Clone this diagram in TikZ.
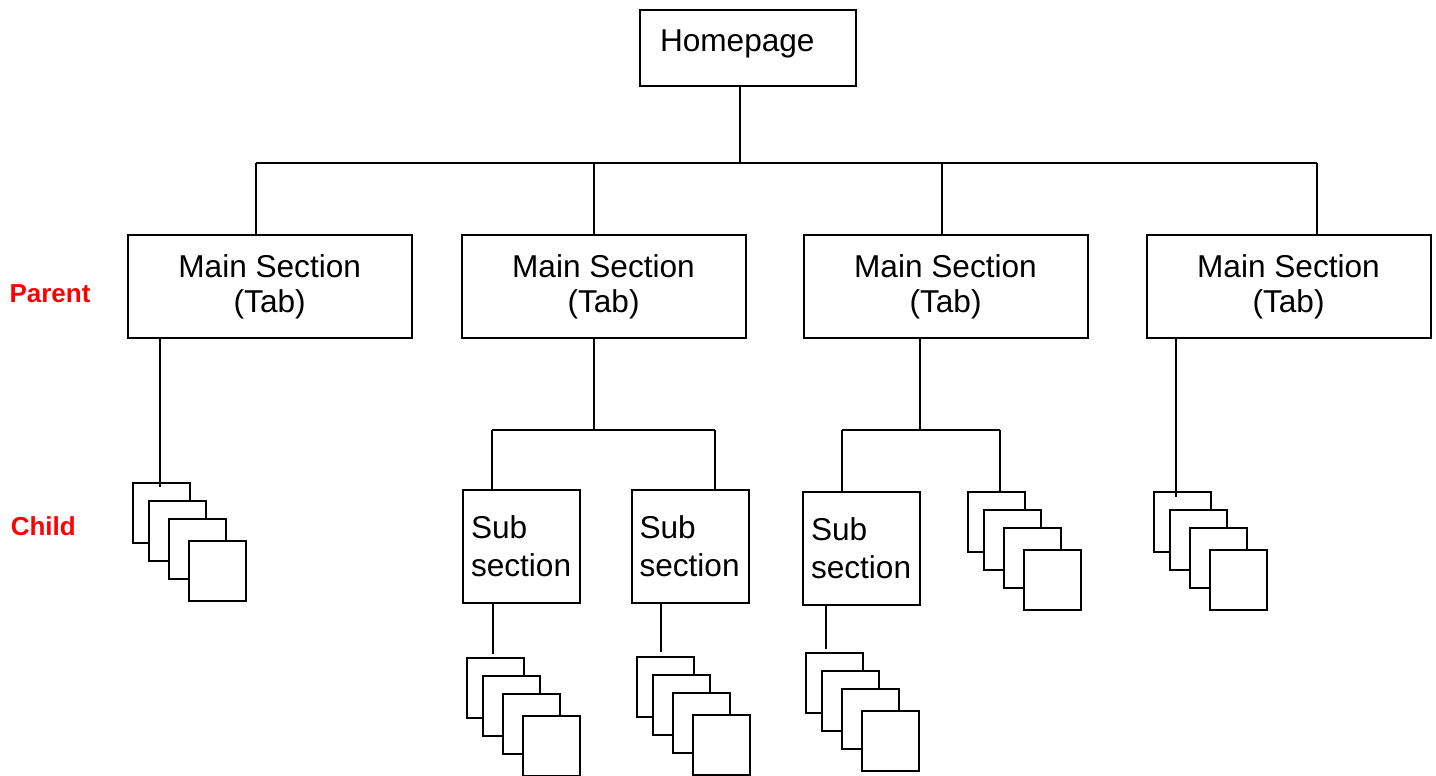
\documentclass[tikz,border=0pt]{standalone}
\usepackage{fontspec}
\setmainfont{Liberation Sans}

\begin{document}
\begin{tikzpicture}[x=0.5pt, y=-0.5pt, line width=1pt,
      mainbox/.style={draw, minimum width=142pt, minimum height=51.5pt, align=center,
         font=\fontsize{15.8pt}{17.5pt}\selectfont},
      subbox/.style={draw, minimum width=58.5pt, minimum height=56.5pt, text width=50.5pt,
         inner xsep=4pt, align=left, font=\fontsize{15.8pt}{19pt}\selectfont},
      page/.style={draw, fill=white, minimum width=28.5pt, minimum height=30pt, inner sep=0pt},
      tierlabel/.style={text=red, anchor=base, font=\fontsize{13pt}{15pt}\selectfont\bfseries}]
         \useasboundingbox (0,0) rectangle (1436,776);

         % top level
         \node[draw, text width=88pt, inner xsep=10pt, inner ysep=0pt, text height=20.5pt,
            text depth=17.5pt, font=\fontsize{15.8pt}{17.5pt}\selectfont] (home) at (748,48) {Homepage};

         \node[mainbox] (m1) at (269.7,286.5) {Main Section\\(Tab)};
         \node[mainbox] (m2) at (603.5,286.5) {Main Section\\(Tab)};
         \node[mainbox] (m3) at (945.5,286.5) {Main Section\\(Tab)};
         \node[mainbox] (m4) at (1288.5,286.5) {Main Section\\(Tab)};

         \node[subbox] (subA) at (521.5,546.5) {Sub section};
         \node[subbox] (subB) at (690,546.5) {Sub section};
         \node[subbox] (subC) at (861.5,548.5) {Sub section};

         \node[tierlabel] (parent) at (50,302) {Parent};
         \node[tierlabel] (child) at (43.3,535) {Child};

         % stacks of pages
         \foreach \s/\x/\y in {S1/133/483, SA/467/658, SB/637/657, SC/806/653, SD/968/492, SE/1154/492} {
            \node[page] (\s-1) at (\x+28.5,\y+30) {};
            \node[page] (\s-2) at (\x+44.5,\y+48) {};
            \node[page] (\s-3) at (\x+64.5,\y+66) {};
            \node[page] (\s-4) at (\x+84.5,\y+88) {};
         }

         % joints
         \coordinate (hub) at (740,163);
         \coordinate (b1) at (256,163);
         \coordinate (b2) at (594,163);
         \coordinate (b3) at (941.5,163);
         \coordinate (b4) at (1317,163);
         \coordinate (c2) at (594,430);
         \coordinate (a2) at (492,430);
         \coordinate (e2) at (715,430);
         \coordinate (c3) at (920,430);
         \coordinate (a3) at (842,430);
         \coordinate (e3) at (1000,430);
         \coordinate (d1) at (160,487);
         \coordinate (d4) at (1176,497);
         \coordinate (dA) at (493,654);
         \coordinate (dB) at (661,652);
         \coordinate (dC) at (826,649);

         \draw (home.south -| hub) -- (hub);
         \draw (b1) -- (b4);
         \draw (b1) -- (b1 |- m1.north);
         \draw (b2) -- (b2 |- m2.north);
         \draw (b3) -- (b3 |- m3.north);
         \draw (b4) -- (b4 |- m4.north);

         \draw (m1.south -| d1) -- (d1);
         \draw (m4.south -| d4) -- (d4);

         \draw (m2.south -| c2) -- (c2);
         \draw (a2) -- (e2);
         \draw (a2) -- (a2 |- subA.north);
         \draw (e2) -- (e2 |- subB.north);

         \draw (m3.south -| c3) -- (c3);
         \draw (a3) -- (e3);
         \draw (a3) -- (a3 |- subC.north);
         \draw (e3) -- (e3 |- SD-1.north);

         \draw (subA.south -| dA) -- (dA);
         \draw (subB.south -| dB) -- (dB);
         \draw (subC.south -| dC) -- (dC);
      \end{tikzpicture}
\end{document}
